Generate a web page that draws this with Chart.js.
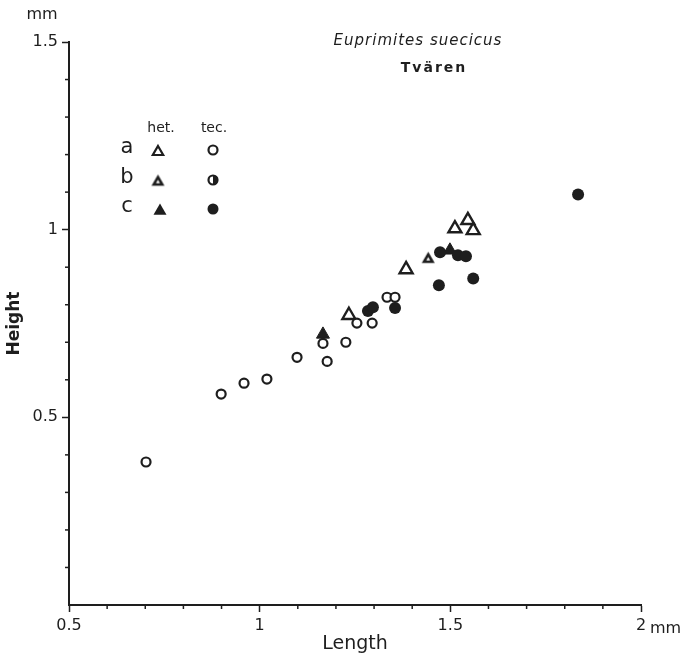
<!DOCTYPE html>
<html>
<head>
<meta charset="utf-8">
<script src="https://cdn.jsdelivr.net/npm/chart.js@4"></script>
<style>
  body { margin: 0; background: #fff; }
</style>
</head>
<body>
<canvas id="shellChart" width="690" height="655"></canvas>
<script>
// length / height in mm
const tecA = [[0.702, 0.381], [0.899, 0.562], [0.959, 0.591], [1.019, 0.602], [1.098, 0.660], [1.177, 0.649],
  [1.166, 0.697], [1.226, 0.700], [1.255, 0.751], [1.295, 0.751], [1.334, 0.820], [1.355, 0.820]];
const tecC = [[1.284, 0.783], [1.297, 0.793], [1.355, 0.791], [1.470, 0.852], [1.560, 0.870],
  [1.473, 0.940], [1.520, 0.932], [1.541, 0.929], [1.835, 1.094]];
const hetA = [[1.234, 0.772], [1.384, 0.894], [1.512, 1.003], [1.546, 1.025], [1.560, 0.998]];
const hetB = [[1.442, 0.924]];
const hetC = [[1.166, 0.721], [1.499, 0.945]];

const xTicks = [0.5, 1, 1.5, 2];
const yTicks = [0.5, 1, 1.5];
const rowLabels = ['a', 'b', 'c'];
const groupLabels = ['het.', 'tec.'];
const titleText = 'Euprimites suecicus';
const subtitleText = 'Tvären';

const INK = '#1e1e1e';
const FONT = '"DejaVu Sans", sans-serif';

const toPts = arr => arr.map(p => ({ x: p[0], y: p[1] }));

// triangle with small white core (group b)
function makeTriB(r) {
  const c = document.createElement('canvas');
  const s = Math.ceil(r * 2 + 4);
  c.width = s; c.height = s;
  const g = c.getContext('2d');
  const cx = s / 2, cy = s / 2 + 1;
  const tri = (rr) => {
    g.beginPath();
    for (let i = 0; i < 3; i++) {
      const a = i * 2 * Math.PI / 3;
      const px = cx + Math.sin(a) * rr, py = cy - Math.cos(a) * rr;
      if (i === 0) g.moveTo(px, py); else g.lineTo(px, py);
    }
    g.closePath();
  };
  g.fillStyle = INK; tri(r); g.fill();
  g.fillStyle = '#fff'; tri(r * 0.3); g.fill();
  return c;
}
const triBImg = makeTriB(7.5);

// small ticks every 0.1 mm
const minorTicks = {
  id: 'minorTicks',
  afterDraw(chart) {
    const { ctx, scales: { x, y } } = chart;
    ctx.save();
    ctx.strokeStyle = INK;
    ctx.lineWidth = 1.5;
    for (let v = 6; v < 20; v++) {
      if (v % 5 === 0) continue;
      const px = x.getPixelForValue(v / 10);
      ctx.beginPath(); ctx.moveTo(px, x.top); ctx.lineTo(px, x.top + 4); ctx.stroke();
    }
    for (let v = 1; v < 15; v++) {
      if (v % 5 === 0) continue;
      const py = y.getPixelForValue(v / 10);
      ctx.beginPath(); ctx.moveTo(y.right, py); ctx.lineTo(y.right - 4, py); ctx.stroke();
    }
    ctx.restore();
  }
};

// title, units and the a/b/c key
const annotations = {
  id: 'annotations',
  afterDraw(chart) {
    const { ctx, scales: { x, y } } = chart;
    ctx.save();
    ctx.fillStyle = INK;
    ctx.textBaseline = 'middle';
    ctx.textAlign = 'center';
    ctx.letterSpacing = '1px';
    ctx.font = 'italic 15px ' + FONT;
    ctx.fillText(titleText, 418, 41);
    ctx.letterSpacing = '2px';
    ctx.font = 'bold 14px ' + FONT;
    ctx.fillText(subtitleText, 434, 68);

    ctx.font = '16px ' + FONT;
    ctx.letterSpacing = '0px';
    ctx.fillText('mm', 42, 15);
    ctx.textAlign = 'left';
    ctx.fillText('mm', x.getPixelForValue(2) + 9, 629);

    // key
    ctx.textAlign = 'center';
    ctx.font = '14px ' + FONT;
    ctx.fillText(groupLabels[0], 161, 128);
    ctx.fillText(groupLabels[1], 214, 128);
    ctx.font = '21px ' + FONT;
    const rowsY = [150, 180, 209];
    rowLabels.forEach((lab, i) => ctx.fillText(lab, 127, rowsY[i] - 2));
    const tri = (cx, cy, r) => {
      ctx.beginPath();
      for (let i = 0; i < 3; i++) {
        const a = i * 2 * Math.PI / 3;
        const px = cx + Math.sin(a) * r, py = cy - Math.cos(a) * r;
        if (i === 0) ctx.moveTo(px, py); else ctx.lineTo(px, py);
      }
      ctx.closePath();
    };
    ctx.lineWidth = 2.2;
    ctx.strokeStyle = INK;
    // a
    tri(158, 152, 6); ctx.fillStyle = '#fff'; ctx.fill(); ctx.stroke();
    ctx.beginPath(); ctx.arc(213, 150, 4.5, 0, Math.PI * 2); ctx.stroke();
    // b
    ctx.drawImage(triBImg, 158 - triBImg.width / 2, 182 - triBImg.height / 2 - 1);
    ctx.beginPath(); ctx.arc(213, 180, 4.5, 0, Math.PI * 2); ctx.stroke();
    ctx.fillStyle = INK;
    ctx.beginPath(); ctx.arc(213, 180, 5, -Math.PI / 2, Math.PI / 2); ctx.fill();
    // c
    tri(160, 211, 7.5); ctx.fill();
    ctx.beginPath(); ctx.arc(213, 209, 5.5, 0, Math.PI * 2); ctx.fill();
    ctx.restore();
  }
};

const ctx = document.getElementById('shellChart').getContext('2d');
new Chart(ctx, {
  type: 'scatter',
  data: {
    datasets: [
      { label: 'tec. a', data: toPts(tecA), order: 0, pointStyle: 'circle', pointRadius: 4.5,
        borderWidth: 2.2, borderColor: INK, backgroundColor: '#fff' },
      { label: 'tec. c', data: toPts(tecC), order: 0, pointStyle: 'circle', pointRadius: 6,
        borderWidth: 0, borderColor: INK, backgroundColor: INK },
      { label: 'het. a', data: toPts(hetA), order: 1, pointStyle: 'triangle', pointRadius: 7.5,
        borderWidth: 2.4, borderColor: INK, backgroundColor: '#fff' },
      { label: 'het. b', data: toPts(hetB), order: 1, pointStyle: triBImg, pointRadius: 7.5 },
      { label: 'het. c', data: toPts(hetC), order: 1, pointStyle: 'triangle', pointRadius: 7.5,
        borderWidth: 1, borderColor: INK, backgroundColor: INK }
    ]
  },
  options: {
    responsive: false,
    animation: false,
    layout: { padding: { top: 42, right: 49, left: 0, bottom: 0 } },
    plugins: { legend: { display: false }, tooltip: { enabled: false } },
    scales: {
      x: {
        type: 'linear',
        min: 0.5, max: 2,
        afterFit: s => { s.height = 50; },
        afterBuildTicks: s => { s.ticks = xTicks.map(v => ({ value: v })); },
        border: { display: true, color: INK, width: 2 },
        grid: { display: true, drawOnChartArea: false, drawTicks: true, tickLength: 7, tickColor: INK, tickWidth: 1.5 },
        ticks: { color: INK, padding: 4, font: { family: FONT, size: 16 }, maxRotation: 0,
          callback: v => String(v) },
        title: { display: true, text: 'Length', color: INK, padding: { top: 0, bottom: 0 },
          font: { family: FONT, size: 19 } }
      },
      y: {
        type: 'linear',
        min: 0, max: 1.5,
        afterFit: s => { s.width = 69; },
        afterBuildTicks: s => { s.ticks = yTicks.map(v => ({ value: v })); },
        border: { display: true, color: INK, width: 2 },
        grid: { display: true, drawOnChartArea: false, drawTicks: true, tickLength: 7, tickColor: INK, tickWidth: 1.5 },
        ticks: { color: INK, padding: 4, font: { family: FONT, size: 16 },
          callback: v => String(v) },
        title: { display: true, text: 'Height', color: INK, padding: { top: 4, bottom: 0 },
          font: { family: FONT, size: 17, weight: 'bold' } }
      }
    }
  },
  plugins: [minorTicks, annotations]
});
</script>
</body>
</html>
